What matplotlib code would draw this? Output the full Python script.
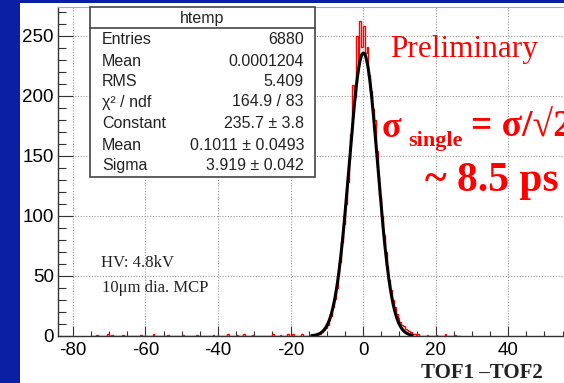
import numpy as np
import matplotlib.pyplot as plt
from matplotlib.patches import Rectangle
from matplotlib.ticker import MultipleLocator

plt.rcParams['axes.unicode_minus'] = False

# histogram of TOF1 - TOF2, 0.5 wide bins from -15 to 15
core_counts = [0, 1, 0, 1, 1, 2, 2, 3, 5, 7, 9, 13, 17, 24, 31, 40, 51, 62, 78, 93,
               110, 128, 147, 168, 209, 199, 250, 226, 262, 241,
               258, 236, 241, 217, 204, 189, 180, 154, 133, 117, 100, 84, 70, 58, 47,
               38, 30, 24, 18, 15, 12, 9, 8, 6, 5, 4, 3, 2, 2, 1]
# sparse entries in the tails
tail_x = [-73.4, -70.3, -69.2, -66.4, -61.5, -57.9, -53.8, -49.7, -45.8, -41.4,
          -37.2, -34.8, -32.6, -30.3, -24.8, -22.9, -20.7, -19.3, -16.6,
          15.2, 17.9, 20.4, 22.6, 25.4]
tail_counts = [1, 2, 1, 1, 1, 2, 1, 1, 1, 1, 2, 1, 2, 1, 2, 1, 2, 2, 2,
               2, 1, 1, 2, 1]

# gaussian fit parameters from the stats box
fit_const = 235.7
fit_mean = 0.1011
fit_sigma = 3.919

stat_labels = ['Entries', 'Mean', 'RMS', 'χ² / ndf', 'Constant', 'Mean', 'Sigma']
stat_values = ['6880', '0.0001204', '5.409', '164.9 / 83', '235.7 ± 3.8',
               '0.1011 ± 0.0493', '3.919 ± 0.042']

xticks = [-80, -60, -40, -20, 0, 20, 40]
yticks = [0, 50, 100, 150, 200, 250]

W, H = 564, 383
fig = plt.figure(figsize=(W / 100, H / 100), dpi=100)
fig.patch.set_facecolor('#0b1fa5')


def fx(px):
    return px / W


def fy(py):
    return 1 - py / H


# white slide area
fig.add_artist(Rectangle((fx(20), 0), 1 - fx(20), fy(3), transform=fig.transFigure,
                         facecolor='white', edgecolor='none', zorder=0))

ax = fig.add_axes([fx(58), 1 - 336 / H, (564 - 58) / W, (336 - 7) / H])
ax.set_facecolor('white')

# build full histogram
edges = np.arange(-75, 27.01, 0.5)
counts = np.zeros(len(edges) - 1)
core_start = int(round((-15 - edges[0]) / 0.5))
counts[core_start:core_start + len(core_counts)] = core_counts
for x, c in zip(tail_x, tail_counts):
    i = int((x - edges[0]) // 0.5)
    counts[i] = c
ax.stairs(counts, edges, color='red', lw=1.0, zorder=3)

# fit curve
xf = np.linspace(-14, 13.5, 400)
yf = fit_const * np.exp(-0.5 * ((xf - fit_mean) / fit_sigma) ** 2)
ax.plot(xf, yf, color='black', lw=2.2, zorder=4)

ax.set_xlim(-84.1, 55.4)
ax.set_ylim(0, 274)
ax.set_xticks(xticks)
ax.set_yticks(yticks)
ax.xaxis.set_minor_locator(MultipleLocator(5))
ax.yaxis.set_minor_locator(MultipleLocator(10))
ax.tick_params(axis='y', which='major', direction='in', length=10.8, width=0.8,
               labelsize=13.5, pad=3, color='#333333')
ax.tick_params(axis='y', which='minor', direction='in', length=5.4, width=0.8, color='#333333')
ax.tick_params(axis='x', which='major', direction='in', length=7.2, width=0.8,
               labelsize=13.5, pad=4, color='#333333')
ax.tick_params(axis='x', which='minor', direction='in', length=3.6, width=0.8, color='#333333')
for lab in ax.get_xticklabels() + ax.get_yticklabels():
    lab.set_family('Liberation Sans')
ax.grid(True, which='major', linestyle=(0, (1, 1.5)), color='#999999', lw=0.8)
for side in ['left', 'bottom']:
    ax.spines[side].set_color('#333333')
    ax.spines[side].set_linewidth(1.0)
ax.spines['top'].set_color('#aaaaaa')
ax.spines['top'].set_linewidth(0.8)
ax.spines['right'].set_visible(False)

# stats box
fig.add_artist(Rectangle((fx(90), fy(177)), fx(315 - 90), (177 - 7) / H,
                         transform=fig.transFigure, facecolor='white',
                         edgecolor='#444444', lw=1.2, zorder=5))
fig.add_artist(plt.Line2D([fx(90), fx(315)], [fy(28), fy(28)], color='#444444', lw=1.2, zorder=6))
fig.text(fx(202), fy(18), 'htemp', ha='center', va='center', fontsize=11.5,
         family='Liberation Sans', color='#222222', zorder=7)
rows_y = [40, 61, 81, 102, 124, 146, 165]
for lab, val, py in zip(stat_labels, stat_values, rows_y):
    fig.text(fx(102), fy(py), lab, ha='left', va='center', fontsize=11.5,
             family='Liberation Sans', color='#222222', zorder=7)
    fig.text(fx(304), fy(py), val, ha='right', va='center', fontsize=11.5,
             family='Liberation Sans', color='#222222', zorder=7)

serif = ['Liberation Serif', 'DejaVu Serif']
fig.text(fx(390), fy(57), 'Preliminary', color='red', fontsize=22.5, family=serif,
         ha='left', va='baseline')
fig.text(fx(382), fy(137), 'σ', color='red', fontsize=26, weight='bold', family=serif,
         ha='left', va='baseline')
fig.text(fx(408), fy(146), 'single', color='red', fontsize=16, weight='bold', family=serif,
         ha='left', va='baseline')
fig.text(fx(471), fy(137), '= σ/√2', color='red', fontsize=27, weight='bold', family=serif,
         ha='left', va='baseline')
fig.text(fx(425), fy(191), '~ 8.5 ps', color='red', fontsize=30, weight='bold', family=serif,
         ha='left', va='baseline')

fig.text(fx(101), fy(267), 'HV: 4.8kV', color='#222222', fontsize=12, family=serif,
         ha='left', va='baseline')
fig.text(fx(102), fy(292), '10μm dia. MCP', color='#222222', fontsize=12, family=serif,
         ha='left', va='baseline')
fig.text(fx(543), fy(378), 'TOF1 –TOF2', color='#222222', fontsize=15, weight='bold',
         family=serif, ha='right', va='baseline')

fig.savefig('out.png', dpi=100, facecolor=fig.get_facecolor())
